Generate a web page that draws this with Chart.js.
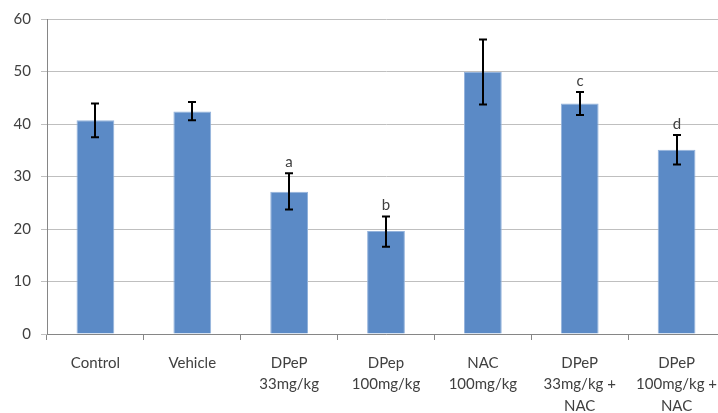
<!DOCTYPE html>
<html>
<head>
<meta charset="utf-8">
<script src="https://cdn.jsdelivr.net/npm/chart.js@4"></script>
<style>
  html, body { margin: 0; padding: 0; background: #fff; overflow: hidden; }
  #wrap { width: 730px; height: 413px; }
</style>
</head>
<body>
<div id="wrap"><canvas id="barChart" width="730" height="413"></canvas></div>
<script>
const groups = [
    "Control",
    "Vehicle",
    ["DPeP", "33mg/kg"],
    ["DPep", "100mg/kg"],
    ["NAC", "100mg/kg"],
    ["DPeP", "33mg/kg +", "NAC"],
    ["DPeP", "100mg/kg +", "NAC"]
];
const means = [40.7, 42.4, 27.1, 19.6, 49.9, 43.9, 35.1];
const errUpper = [43.9, 44.2, 30.6, 22.4, 56.1, 46.1, 37.9];
const errLower = [37.5, 40.7, 23.7, 16.6, 43.7, 41.7, 32.3];
const sigLetters = ["", "", "a", "b", "", "c", "d"];
const yTicks = [0, 10, 20, 30, 40, 50, 60];

const textColor = "#404040";
const fontFamily = "Lato, 'Open Sans', sans-serif";

// error bars + significance letters, drawn through the chart's scales
const errorBarPlugin = {
    id: "errorBars",
    afterDatasetsDraw(chart) {
        const ctx = chart.ctx;
        const x = chart.scales.x;
        const y = chart.scales.y;
        ctx.save();
        ctx.strokeStyle = "#000";
        ctx.lineWidth = 2;
        for (let i = 0; i < means.length; i++) {
            const cx = Math.round(x.getPixelForValue(i));
            const top = y.getPixelForValue(errUpper[i]);
            const bot = y.getPixelForValue(errLower[i]);
            ctx.beginPath();
            ctx.moveTo(cx, top);
            ctx.lineTo(cx, bot);
            ctx.moveTo(cx - 4, top);
            ctx.lineTo(cx + 4, top);
            ctx.moveTo(cx - 4, bot);
            ctx.lineTo(cx + 4, bot);
            ctx.stroke();
            if (sigLetters[i]) {
                ctx.fillStyle = textColor;
                ctx.font = "15px " + fontFamily;
                ctx.textAlign = "center";
                ctx.textBaseline = "alphabetic";
                ctx.fillText(sigLetters[i], cx, top - 6);
            }
        }
        ctx.restore();
    }
};

const ctx = document.getElementById("barChart").getContext("2d");
new Chart(ctx, {
    type: "bar",
    data: {
        labels: groups,
        datasets: [{
            data: means,
            backgroundColor: "#5B8AC6",
            borderColor: "#94B3DC",
            borderWidth: 1,
            categoryPercentage: 1.0,
            barPercentage: 0.39
        }]
    },
    options: {
        responsive: false,
        animation: false,
        layout: { padding: { top: 16, right: 5, left: 0, bottom: 0 } },
        plugins: {
            legend: { display: false },
            tooltip: { enabled: false }
        },
        scales: {
            x: {
                grid: {
                    display: true,
                    drawOnChartArea: false,
                    drawTicks: true,
                    tickLength: 6,
                    color: "#868686",
                    offset: true
                },
                border: { color: "#868686", width: 1 },
                ticks: {
                    color: textColor,
                    font: { family: fontFamily, size: 15, lineHeight: 1.45 },
                    padding: 12,
                    maxRotation: 0,
                    autoSkip: false
                },
                afterFit(scale) { scale.height = 79; }
            },
            y: {
                min: 0,
                max: 60,
                afterBuildTicks(scale) {
                    scale.ticks = yTicks.map(v => ({ value: v }));
                },
                grid: {
                    color: "#BFBFBF",
                    lineWidth: 1,
                    drawTicks: true,
                    tickLength: 6
                },
                border: { color: "#868686", width: 1 },
                ticks: {
                    color: textColor,
                    font: { family: fontFamily, size: 15 },
                    padding: 10
                },
                afterFit(scale) { scale.width = 47; }
            }
        }
    },
    plugins: [errorBarPlugin]
});
</script>
</body>
</html>
